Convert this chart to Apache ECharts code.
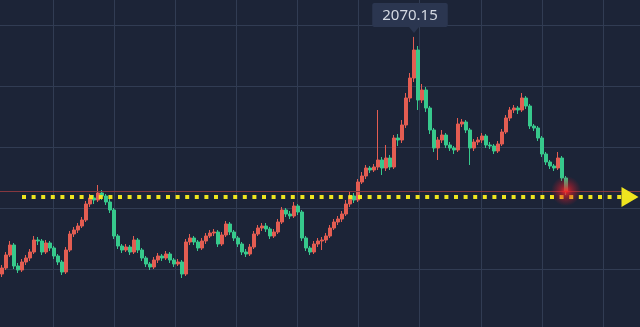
<!DOCTYPE html>
<html>
<head>
<meta charset="utf-8">
<style>
  html, body { margin: 0; padding: 0; background: #1c2437; }
  #kline { width: 640px; height: 327px; }
</style>
<script src="https://cdn.jsdelivr.net/npm/echarts@6.0.0/dist/echarts.min.js"></script>
</head>
<body>
<div id="kline"></div>
<script>
// candle values, one entry per candle
var opens = [
  1596, 1608, 1634, 1654, 1612, 1604, 1620, 1628, 1640, 1664,
  1662, 1640, 1658, 1648, 1632, 1620, 1600, 1644, 1676, 1684,
  1692, 1704, 1736, 1748, 1744, 1758, 1752, 1740, 1724, 1672,
  1652, 1644, 1650, 1640, 1664, 1644, 1628, 1616, 1610, 1624,
  1632, 1628, 1636, 1624, 1616, 1620, 1596, 1660, 1668, 1660,
  1648, 1662, 1672, 1678, 1680, 1656, 1674, 1696, 1680, 1668,
  1656, 1640, 1636, 1650, 1676, 1688, 1692, 1686, 1672, 1680,
  1700, 1724, 1716, 1712, 1732, 1720, 1668, 1648, 1640, 1656,
  1662, 1664, 1672, 1688, 1700, 1706, 1716, 1736, 1752, 1744,
  1780, 1792, 1808, 1804, 1810, 1824, 1808, 1828, 1810, 1868,
  1864, 1894, 1948, 1988, 2044, 1944, 1964, 1928, 1884, 1848,
  1864, 1874, 1854, 1848, 1844, 1896, 1900, 1884, 1848, 1860,
  1864, 1872, 1854, 1852, 1842, 1856, 1880, 1908, 1924, 1928,
  1924, 1948, 1932, 1892, 1888, 1868, 1836, 1820, 1812, 1808,
  1828, 1788
];
var closes = [
  1608, 1634, 1654, 1612, 1604, 1620, 1628, 1640, 1664, 1662,
  1640, 1658, 1648, 1632, 1620, 1600, 1644, 1676, 1684, 1692,
  1704, 1736, 1748, 1744, 1758, 1752, 1740, 1724, 1672, 1652,
  1644, 1650, 1640, 1664, 1644, 1628, 1616, 1610, 1624, 1632,
  1628, 1636, 1624, 1616, 1620, 1596, 1660, 1668, 1660, 1648,
  1662, 1672, 1678, 1680, 1656, 1674, 1696, 1680, 1668, 1656,
  1640, 1636, 1650, 1676, 1688, 1692, 1686, 1672, 1680, 1700,
  1724, 1716, 1712, 1732, 1720, 1668, 1648, 1640, 1656, 1662,
  1664, 1672, 1688, 1700, 1706, 1716, 1736, 1752, 1744, 1780,
  1792, 1808, 1804, 1810, 1824, 1808, 1828, 1810, 1868, 1864,
  1894, 1948, 1988, 2044, 1944, 1964, 1928, 1884, 1848, 1864,
  1874, 1854, 1848, 1844, 1896, 1900, 1884, 1848, 1860, 1864,
  1872, 1854, 1852, 1842, 1856, 1880, 1908, 1924, 1928, 1924,
  1948, 1932, 1892, 1888, 1868, 1836, 1820, 1812, 1808, 1828,
  1788, 1762
];
var lows = [
  1590, 1604, 1630, 1606, 1598, 1600, 1614, 1622, 1636, 1654,
  1634, 1636, 1642, 1626, 1614, 1594, 1596, 1640, 1670, 1678,
  1688, 1700, 1730, 1736, 1740, 1744, 1734, 1718, 1666, 1646,
  1638, 1640, 1634, 1636, 1638, 1622, 1610, 1604, 1606, 1618,
  1622, 1624, 1618, 1610, 1612, 1588, 1592, 1654, 1654, 1642,
  1644, 1656, 1668, 1672, 1650, 1652, 1670, 1674, 1662, 1650,
  1634, 1630, 1632, 1646, 1672, 1682, 1680, 1666, 1668, 1676,
  1696, 1710, 1706, 1708, 1714, 1662, 1642, 1634, 1636, 1650,
  1644, 1658, 1668, 1684, 1694, 1700, 1712, 1730, 1738, 1740,
  1776, 1786, 1798, 1800, 1804, 1794, 1802, 1804, 1806, 1852,
  1858, 1888, 1940, 1980, 1924, 1938, 1920, 1876, 1840, 1824,
  1858, 1848, 1842, 1836, 1840, 1890, 1878, 1814, 1842, 1854,
  1858, 1848, 1846, 1836, 1838, 1852, 1876, 1902, 1918, 1916,
  1920, 1926, 1886, 1882, 1862, 1830, 1814, 1806, 1802, 1804,
  1782, 1754
];
var highs = [
  1614, 1640, 1662, 1658, 1618, 1626, 1634, 1646, 1672, 1670,
  1666, 1664, 1662, 1652, 1636, 1624, 1650, 1682, 1690, 1698,
  1710, 1742, 1756, 1754, 1774, 1764, 1756, 1746, 1728, 1676,
  1656, 1656, 1654, 1672, 1668, 1648, 1632, 1620, 1630, 1638,
  1636, 1642, 1640, 1628, 1626, 1624, 1666, 1676, 1672, 1664,
  1668, 1678, 1684, 1686, 1684, 1680, 1702, 1700, 1684, 1672,
  1660, 1646, 1656, 1682, 1694, 1698, 1698, 1690, 1686, 1706,
  1730, 1728, 1722, 1740, 1736, 1724, 1672, 1652, 1662, 1668,
  1670, 1678, 1694, 1706, 1712, 1722, 1744, 1760, 1758, 1786,
  1800, 1814, 1812, 1816, 1924, 1830, 1854, 1834, 1874, 1876,
  1904, 1958, 1998, 2070.15, 2052, 1976, 1970, 1932, 1888, 1870,
  1884, 1878, 1860, 1852, 1908, 1906, 1904, 1888, 1866, 1870,
  1878, 1876, 1860, 1856, 1862, 1886, 1914, 1930, 1934, 1932,
  1958, 1952, 1936, 1896, 1892, 1872, 1840, 1824, 1816, 1840,
  1832, 1792
];
// x slots: the candles stop well before the right edge
var categories = [];
for (var i = 0; i < 160; i++) categories.push(String(i + 1));

var guidePrice = 1750;          // yellow dotted arrow
var guideFrom = 5, guideTo = 157;

var chartDom = document.getElementById('kline');
var myChart = echarts.init(chartDom);

var candles = opens.map(function (o, i) {
  return [o, closes[i], lows[i], highs[i]];
});
var peakIdx = highs.indexOf(Math.max.apply(null, highs));
var lastIdx = closes.length - 1;
var lastPrice = closes[lastIdx];

var gridColor = '#313c53';
var hidden = { show: false };
var latticeAxis = {
  type: 'value', min: 0, interval: 1,
  axisLine: hidden, axisTick: hidden, axisLabel: hidden,
  splitLine: { show: true, lineStyle: { color: gridColor, width: 1 } }
};

var glow = new echarts.graphic.RadialGradient(0.5, 0.5, 0.5, [
  { offset: 0, color: 'rgba(255,40,40,0.95)' },
  { offset: 0.35, color: 'rgba(235,30,40,0.55)' },
  { offset: 1, color: 'rgba(200,20,40,0)' }
]);

var option = {
  backgroundColor: '#1c2437',
  animation: false,
  grid: [
    { left: 0, right: 0, top: 0, bottom: 0 },
    // vertical lattice lines
    { left: 53, right: 37, top: 0, bottom: 0 },
    // horizontal lattice lines
    { left: 0, right: 0, top: 25, bottom: 58 }
  ],
  xAxis: [
    { type: 'category', data: categories, gridIndex: 0, show: false, boundaryGap: true },
    Object.assign({ gridIndex: 1, max: 9 }, latticeAxis),
    { type: 'value', gridIndex: 2, show: false }
  ],
  yAxis: [
    { type: 'value', gridIndex: 0, min: 1490, max: 2144, show: false },
    { type: 'value', gridIndex: 1, show: false },
    Object.assign({ gridIndex: 2, max: 4 }, latticeAxis)
  ],
  series: [
    {
      type: 'candlestick',
      xAxisIndex: 0,
      yAxisIndex: 0,
      barWidth: '65%',
      data: candles,
      itemStyle: {
        color: '#e35d52',
        color0: '#37c98c',
        borderColor: '#e35d52',
        borderColor0: '#37c98c',
        borderWidth: 1
      },
      markLine: {
        silent: true,
        animation: false,
        symbol: ['none', 'none'],
        label: { show: false },
        data: [
          { yAxis: lastPrice, lineStyle: { color: '#85373f', width: 1, type: 'solid' } },
          [
            { coord: [guideFrom, guidePrice], symbol: 'none',
              lineStyle: { color: '#efe41f', width: 4, type: [4, 5.6], cap: 'butt' } },
            { coord: [guideTo, guidePrice], symbol: 'triangle', symbolSize: [20, 17],
              lineStyle: { color: '#efe41f', width: 4, type: [4, 5.6], cap: 'butt' } }
          ]
        ]
      },
      markPoint: {
        silent: true,
        animation: false,
        data: [
          {
            name: 'peak',
            coord: [peakIdx, highs[peakIdx]],
            value: highs[peakIdx],
            symbol: 'triangle',
            symbolRotate: 180,
            symbolSize: [10, 6],
            symbolOffset: [0, -7],
            itemStyle: { color: '#2b3650' },
            label: {
              show: true,
              position: 'top',
              distance: 0,
              offset: [-4, 0],
              formatter: function (p) { return p.value.toFixed(2); },
              color: '#d4d9e2',
              fontSize: 15,
              fontFamily: 'Noto Sans',
              backgroundColor: '#2b3650',
              padding: [5, 10, 4, 10],
              borderRadius: 2
            }
          },
          {
            name: 'last',
            coord: [lastIdx, lastPrice],
            symbol: 'circle',
            symbolSize: 30,
            itemStyle: { color: glow },
            label: { show: false }
          }
        ]
      }
    }
  ]
};

option && myChart.setOption(option);
</script>
</body>
</html>
